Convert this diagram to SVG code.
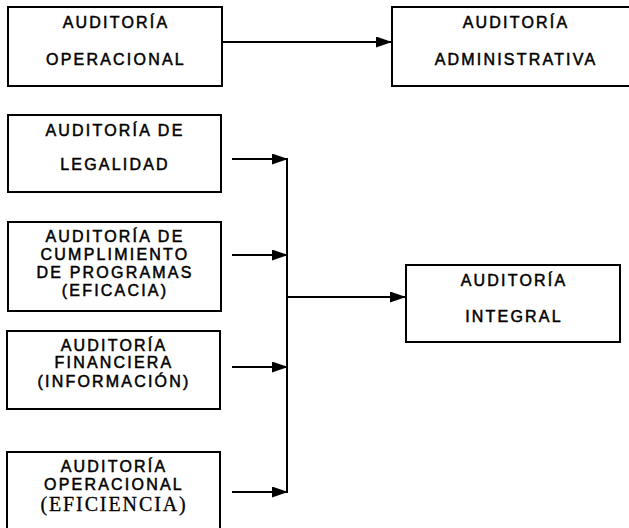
<svg xmlns="http://www.w3.org/2000/svg" width="629" height="528" viewBox="0 0 629 528">
<style>
.box{fill:#fff;stroke:#000;stroke-width:2}
.t{font-family:"Liberation Sans",Arial,sans-serif;font-size:16px;letter-spacing:2.2px;text-anchor:middle;fill:#000;stroke:#000;stroke-width:0.5}
.s{font-family:"Liberation Serif","Times New Roman",serif;font-size:20px;letter-spacing:1.9px;text-anchor:middle;fill:#000;stroke:#000;stroke-width:0.3}
.c{fill:none;stroke:#000;stroke-width:2}
</style>
<defs>
<marker id="ah" markerUnits="userSpaceOnUse" markerWidth="17" markerHeight="12" refX="16" refY="5.5" orient="auto">
<path d="M0,0 L16,5.5 L0,11 z" fill="#000"/>
</marker>
</defs>
<rect width="629" height="528" fill="#fff"/>
<g id="connectors">
<line class="c" x1="222" y1="42" x2="392" y2="42" marker-end="url(#ah)"/>
<line class="c" x1="232" y1="159" x2="288" y2="159" marker-end="url(#ah)"/>
<line class="c" x1="232" y1="255" x2="288" y2="255" marker-end="url(#ah)"/>
<line class="c" x1="232" y1="367" x2="288" y2="367" marker-end="url(#ah)"/>
<line class="c" x1="232" y1="492" x2="288" y2="492" marker-end="url(#ah)"/>
<line class="c" x1="287" y1="158" x2="287" y2="493"/>
<line class="c" x1="287" y1="297" x2="406" y2="297" marker-end="url(#ah)"/>
</g>
<g id="operacional">
<rect class="box" x="8" y="7" width="214" height="79"/>
<text class="t" x="116" y="28">AUDITORÍA</text>
<text class="t" x="116" y="65">OPERACIONAL</text>
</g>
<g id="administrativa">
<rect class="box" x="392" y="7" width="250" height="79"/>
<text class="t" x="516" y="28">AUDITORÍA</text>
<text class="t" x="516" y="65">ADMINISTRATIVA</text>
</g>
<g id="legalidad">
<rect class="box" x="8" y="115" width="213" height="77"/>
<text class="t" x="115" y="136">AUDITORÍA DE</text>
<text class="t" x="115" y="170">LEGALIDAD</text>
</g>
<g id="cumplimiento">
<rect class="box" x="8" y="222" width="213" height="89"/>
<text class="t" x="115" y="242">AUDITORÍA DE</text>
<text class="t" x="115" y="260">CUMPLIMIENTO</text>
<text class="t" x="115" y="278">DE PROGRAMAS</text>
<text class="t" x="115" y="296">(EFICACIA)</text>
</g>
<g id="financiera">
<rect class="box" x="7" y="331" width="213" height="78"/>
<text class="t" x="114" y="351">AUDITORÍA</text>
<text class="t" x="114" y="368">FINANCIERA</text>
<text class="t" x="114" y="387">(INFORMACIÓN)</text>
</g>
<g id="eficiencia">
<rect class="box" x="7" y="452" width="213" height="80"/>
<text class="t" x="114" y="472">AUDITORÍA</text>
<text class="t" x="114" y="490">OPERACIONAL</text>
<text class="s" x="114" y="511">(EFICIENCIA)</text>
</g>
<g id="integral">
<rect class="box" x="406" y="265" width="214" height="77"/>
<text class="t" x="514" y="286">AUDITORÍA</text>
<text class="t" x="514" y="322">INTEGRAL</text>
</g>
</svg>
